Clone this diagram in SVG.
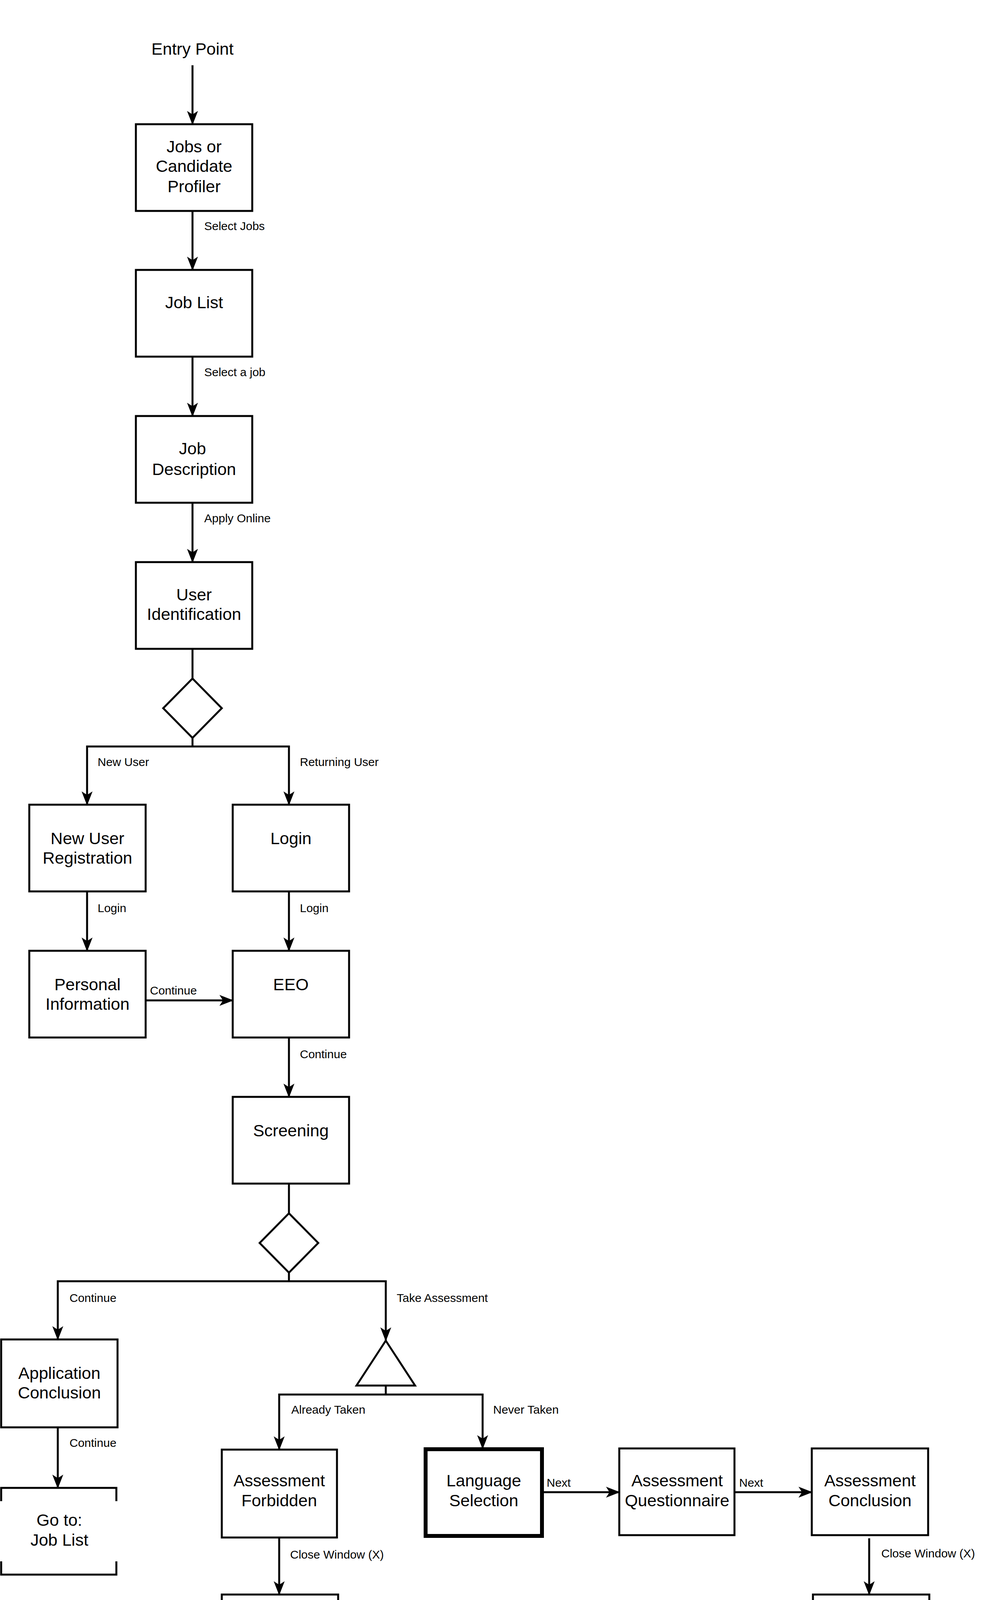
<svg xmlns="http://www.w3.org/2000/svg" width="2538" height="4408" viewBox="0 0 2538 4408">
<style>
.n{fill:#fff;stroke:#000;stroke-width:5}
.t{font-family:"Liberation Sans","Open Sans",sans-serif;font-size:43px;text-anchor:middle;fill:#000}
.l{font-family:"Liberation Sans","Open Sans",sans-serif;font-size:30px;fill:#000}
.c{fill:none;stroke:#000;stroke-width:5}
.a{marker-end:url(#ah)}
</style>
<defs><marker id="ah" markerUnits="userSpaceOnUse" markerWidth="36" markerHeight="36" viewBox="0 0 36 36" refX="34" refY="18" orient="auto"><path d="M0,4 L36,18 L0,32 L9,18 Z" fill="#000"/></marker></defs>
<rect width="2538" height="4408" fill="#fff"/>
<g id="connectors">
<line class="c a" x1="493" y1="167" x2="493" y2="318"/>
<line class="c a" x1="493" y1="540" x2="493" y2="691"/>
<line class="c a" x1="493" y1="913" x2="493" y2="1065"/>
<line class="c a" x1="493" y1="1287" x2="493" y2="1439"/>
<line class="c" x1="493" y1="1661" x2="493" y2="1737"/>
<polyline class="c" points="493,1889 493,1911"/>
<polyline class="c a" points="493,1911 223,1911 223,2060"/>
<polyline class="c a" points="493,1911 740,1911 740,2060"/>
<line class="c a" x1="223" y1="2282" x2="223" y2="2434"/>
<line class="c a" x1="740" y1="2282" x2="740" y2="2434"/>
<line class="c a" x1="373" y1="2561" x2="596" y2="2561"/>
<line class="c a" x1="740" y1="2656" x2="740" y2="2808"/>
<line class="c" x1="740" y1="3030" x2="740" y2="3106"/>
<line class="c" x1="740" y1="3258" x2="740" y2="3280"/>
<polyline class="c a" points="740,3280 148,3280 148,3429"/>
<polyline class="c a" points="740,3280 988,3280 988,3432"/>
<line class="c" x1="988" y1="3547" x2="988" y2="3570"/>
<polyline class="c a" points="988,3570 715,3570 715,3711"/>
<polyline class="c a" points="988,3570 1236,3570 1236,3708"/>
<line class="c a" x1="148" y1="3654" x2="148" y2="3809"/>
<line class="c a" x1="1393" y1="3820" x2="1586" y2="3820"/>
<line class="c a" x1="1881" y1="3820" x2="2079" y2="3820"/>
<line class="c a" x1="715" y1="3936" x2="715" y2="4082"/>
<line class="c a" x1="2226" y1="3938" x2="2226" y2="4082"/>
<text class="l" x="523" y="589">Select Jobs</text>
<text class="l" x="523" y="963">Select a job</text>
<text class="l" x="523" y="1337">Apply Online</text>
<text class="l" x="250" y="1961">New User</text>
<text class="l" x="768" y="1961">Returning User</text>
<text class="l" x="250" y="2335">Login</text>
<text class="l" x="768" y="2335">Login</text>
<text class="l" x="384" y="2546">Continue</text>
<text class="l" x="768" y="2709">Continue</text>
<text class="l" x="178" y="3333">Continue</text>
<text class="l" x="1016" y="3333">Take Assessment</text>
<text class="l" x="746" y="3619">Already Taken</text>
<text class="l" x="1263" y="3619">Never Taken</text>
<text class="l" x="178" y="3704">Continue</text>
<text class="l" x="1400" y="3806">Next</text>
<text class="l" x="1893" y="3806">Next</text>
<text class="l" x="743" y="3990">Close Window (X)</text>
<text class="l" x="2257" y="3987">Close Window (X)</text>
</g>
<g id="entry"><text class="t" x="493" y="140">Entry Point</text></g>
<g id="profiler"><rect class="n" x="348" y="318" width="298" height="222"/><text class="t" x="497" y="390">Jobs or</text><text class="t" x="497" y="440">Candidate</text><text class="t" x="497" y="492">Profiler</text></g>
<g id="joblist"><rect class="n" x="348" y="691" width="298" height="222"/><text class="t" x="497" y="789">Job List</text></g>
<g id="jobdesc"><rect class="n" x="348" y="1065" width="298" height="222"/><text class="t" x="493" y="1163">Job</text><text class="t" x="497" y="1216">Description</text></g>
<g id="userid"><rect class="n" x="348" y="1439" width="298" height="222"/><text class="t" x="497" y="1537">User</text><text class="t" x="497" y="1587">Identification</text></g>
<g id="decision1"><polygon class="n" points="493,1737 568,1813 493,1889 418,1813"/></g>
<g id="newuser"><rect class="n" x="75" y="2060" width="298" height="222"/><text class="t" x="224" y="2161">New User</text><text class="t" x="224" y="2211">Registration</text></g>
<g id="login"><rect class="n" x="596" y="2060" width="298" height="222"/><text class="t" x="745" y="2161">Login</text></g>
<g id="personal"><rect class="n" x="75" y="2434" width="298" height="222"/><text class="t" x="224" y="2535">Personal</text><text class="t" x="224" y="2585">Information</text></g>
<g id="eeo"><rect class="n" x="596" y="2434" width="298" height="222"/><text class="t" x="745" y="2535">EEO</text></g>
<g id="screening"><rect class="n" x="596" y="2808" width="298" height="222"/><text class="t" x="745" y="2909">Screening</text></g>
<g id="decision2"><polygon class="n" points="740,3106 815,3182 740,3258 665,3182"/></g>
<g id="appconcl"><rect class="n" x="3" y="3429" width="298" height="225"/><text class="t" x="152" y="3530">Application</text><text class="t" x="152" y="3580">Conclusion</text></g>
<g id="merge"><polygon class="n" points="988,3432 1063,3547 913,3547"/></g>
<g id="gotojoblist"><polyline class="c" points="3,3843 3,3809 298,3809 298,3843"/><polyline class="c" points="3,3997 3,4031 298,4031 298,3997"/><text class="t" x="152" y="3906">Go to:</text><text class="t" x="152" y="3957">Job List</text></g>
<g id="forbidden"><rect class="n" x="568" y="3711" width="295" height="225"/><text class="t" x="715" y="3805">Assessment</text><text class="t" x="715" y="3856">Forbidden</text></g>
<g id="language"><rect class="n" x="1090" y="3710" width="298" height="222" style="stroke-width:10"/><text class="t" x="1239" y="3805">Language</text><text class="t" x="1239" y="3856">Selection</text></g>
<g id="questionnaire"><rect class="n" x="1586" y="3708" width="295" height="222"/><text class="t" x="1734" y="3805">Assessment</text><text class="t" x="1734" y="3856">Questionnaire</text></g>
<g id="assessconcl"><rect class="n" x="2079" y="3708" width="298" height="222"/><text class="t" x="2228" y="3805">Assessment</text><text class="t" x="2228" y="3856">Conclusion</text></g>
<g id="gotoscreening1"><polyline class="c" points="568,4116 568,4082 866,4082 866,4116"/><polyline class="c" points="568,4270 568,4304 866,4304 866,4270"/><text class="t" x="717" y="4179">Go to:</text><text class="t" x="717" y="4233">Screening</text></g>
<g id="gotoscreening2"><polyline class="c" points="2082,4116 2082,4082 2380,4082 2380,4116"/><polyline class="c" points="2082,4270 2082,4304 2380,4304 2380,4270"/><text class="t" x="2231" y="4179">Go to:</text><text class="t" x="2231" y="4233">Screening</text></g>
</svg>
